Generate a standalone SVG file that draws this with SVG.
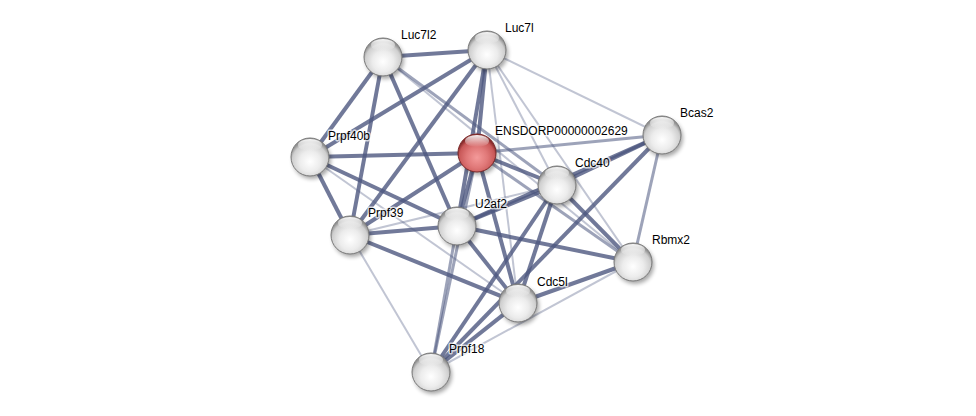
<svg xmlns="http://www.w3.org/2000/svg" width="976" height="416" viewBox="0 0 976 416">
<defs>
<radialGradient id="gW" cx="50%" cy="62%" r="55%">
<stop offset="0" stop-color="#ffffff"/>
<stop offset="0.5" stop-color="#ececec"/>
<stop offset="0.85" stop-color="#cfcfcf"/>
<stop offset="1" stop-color="#959595"/>
</radialGradient>
<radialGradient id="gR" cx="50%" cy="62%" r="55%">
<stop offset="0" stop-color="#f49a9a"/>
<stop offset="0.5" stop-color="#e07878"/>
<stop offset="0.85" stop-color="#c85858"/>
<stop offset="1" stop-color="#8a2c2c"/>
</radialGradient>
<linearGradient id="gH" x1="0" y1="0" x2="0" y2="1">
<stop offset="0" stop-color="#ffffff" stop-opacity="0.95"/>
<stop offset="1" stop-color="#ffffff" stop-opacity="0"/>
</linearGradient>
<filter id="sh" x="-50%" y="-50%" width="200%" height="200%">
<feGaussianBlur stdDeviation="2"/>
</filter>
</defs>
<style>
.e{stroke:#4d5880;fill:none;stroke-linecap:butt}
.d{stroke-width:4;stroke-opacity:0.8}
.m{stroke-width:3;stroke-opacity:0.55}
.l{stroke-width:2;stroke-opacity:0.35}
.s{fill:#000;opacity:0.35;filter:url(#sh)}
.w{fill:url(#gW);stroke:#7a7a7a;stroke-width:1}
.r{fill:url(#gR);stroke:#7a2828;stroke-width:1}
.h{fill:url(#gH)}
text{font-family:"Liberation Sans",Arial,sans-serif;font-size:12px;fill:#000;stroke:#fff;stroke-width:3;stroke-opacity:0.7;paint-order:stroke;stroke-linejoin:round}
</style>
<rect width="976" height="416" fill="#ffffff"/>
<g id="edges">
<line class="e l" x1="487" y1="50" x2="662" y2="135"/>
<line class="e l" x1="487" y1="50" x2="557" y2="185"/>
<line class="e l" x1="487" y1="50" x2="633" y2="262"/>
<line class="e l" x1="487" y1="50" x2="518" y2="303"/>
<line class="e l" x1="310" y1="157" x2="518" y2="303"/>
<line class="e l" x1="350" y1="235" x2="431" y2="372"/>
<line class="e l" x1="350" y1="235" x2="557" y2="185"/>
<line class="e l" x1="431" y1="372" x2="633" y2="262"/>
<line class="e l" x1="383" y1="57" x2="633" y2="262"/>
<line class="e m" x1="383" y1="57" x2="557" y2="185"/>
<line class="e m" x1="477" y1="153" x2="662" y2="135"/>
<line class="e m" x1="662" y1="135" x2="633" y2="262"/>
<line class="e m" x1="477" y1="153" x2="633" y2="262"/>
<line class="e m" x1="477" y1="153" x2="431" y2="372"/>
<line class="e m" x1="457" y1="226" x2="431" y2="372"/>
<line class="e d" x1="383" y1="57" x2="487" y2="50"/>
<line class="e d" x1="383" y1="57" x2="310" y2="157"/>
<line class="e d" x1="383" y1="57" x2="350" y2="235"/>
<line class="e d" x1="383" y1="57" x2="457" y2="226"/>
<line class="e d" x1="487" y1="50" x2="310" y2="157"/>
<line class="e d" x1="487" y1="50" x2="350" y2="235"/>
<line class="e d" x1="487" y1="50" x2="477" y2="153"/>
<line class="e d" x1="487" y1="50" x2="457" y2="226"/>
<line class="e d" x1="310" y1="157" x2="477" y2="153"/>
<line class="e d" x1="310" y1="157" x2="350" y2="235"/>
<line class="e d" x1="310" y1="157" x2="457" y2="226"/>
<line class="e d" x1="350" y1="235" x2="457" y2="226"/>
<line class="e d" x1="350" y1="235" x2="518" y2="303"/>
<line class="e d" x1="350" y1="235" x2="477" y2="153"/>
<line class="e d" x1="477" y1="153" x2="457" y2="226"/>
<line class="e d" x1="477" y1="153" x2="557" y2="185"/>
<line class="e d" x1="477" y1="153" x2="518" y2="303"/>
<line class="e d" x1="557" y1="185" x2="662" y2="135"/>
<line class="e d" x1="557" y1="185" x2="457" y2="226"/>
<line class="e d" x1="557" y1="185" x2="633" y2="262"/>
<line class="e d" x1="557" y1="185" x2="518" y2="303"/>
<line class="e d" x1="557" y1="185" x2="431" y2="372"/>
<line class="e d" x1="662" y1="135" x2="431" y2="372"/>
<line class="e d" x1="457" y1="226" x2="662" y2="135"/>
<line class="e d" x1="457" y1="226" x2="518" y2="303"/>
<line class="e d" x1="457" y1="226" x2="633" y2="262"/>
<line class="e d" x1="518" y1="303" x2="633" y2="262"/>
<line class="e d" x1="518" y1="303" x2="431" y2="372"/>
</g>
<g id="Luc7l2"><circle class="s" cx="385" cy="60" r="19"/><circle class="w" cx="383" cy="57" r="19"/><ellipse class="h" cx="383" cy="45" rx="12" ry="6"/><text x="401" y="39">Luc7l2</text></g>
<g id="Luc7l"><circle class="s" cx="489" cy="53" r="19"/><circle class="w" cx="487" cy="50" r="19"/><ellipse class="h" cx="487" cy="38" rx="12" ry="6"/><text x="505" y="32">Luc7l</text></g>
<g id="ENSDORP00000002629"><circle class="s" cx="479" cy="156" r="19"/><circle class="r" cx="477" cy="153" r="19"/><ellipse class="h" cx="477" cy="141" rx="12" ry="6"/><text x="495" y="135">ENSDORP00000002629</text></g>
<g id="Bcas2"><circle class="s" cx="664" cy="138" r="19"/><circle class="w" cx="662" cy="135" r="19"/><ellipse class="h" cx="662" cy="123" rx="12" ry="6"/><text x="680" y="117">Bcas2</text></g>
<g id="Prpf40b"><circle class="s" cx="312" cy="160" r="19"/><circle class="w" cx="310" cy="157" r="19"/><ellipse class="h" cx="310" cy="145" rx="12" ry="6"/><text x="328" y="140">Prpf40b</text></g>
<g id="Cdc40"><circle class="s" cx="559" cy="188" r="19"/><circle class="w" cx="557" cy="185" r="19"/><ellipse class="h" cx="557" cy="173" rx="12" ry="6"/><text x="575" y="167">Cdc40</text></g>
<g id="U2af2"><circle class="s" cx="459" cy="229" r="19"/><circle class="w" cx="457" cy="226" r="19"/><ellipse class="h" cx="457" cy="214" rx="12" ry="6"/><text x="475" y="208">U2af2</text></g>
<g id="Prpf39"><circle class="s" cx="352" cy="238" r="19"/><circle class="w" cx="350" cy="235" r="19"/><ellipse class="h" cx="350" cy="223" rx="12" ry="6"/><text x="368" y="217">Prpf39</text></g>
<g id="Rbmx2"><circle class="s" cx="635" cy="265" r="19"/><circle class="w" cx="633" cy="262" r="19"/><ellipse class="h" cx="633" cy="250" rx="12" ry="6"/><text x="652" y="244">Rbmx2</text></g>
<g id="Cdc5l"><circle class="s" cx="520" cy="306" r="19"/><circle class="w" cx="518" cy="303" r="19"/><ellipse class="h" cx="518" cy="291" rx="12" ry="6"/><text x="537" y="286">Cdc5l</text></g>
<g id="Prpf18"><circle class="s" cx="433" cy="375" r="19"/><circle class="w" cx="431" cy="372" r="19"/><ellipse class="h" cx="431" cy="360" rx="12" ry="6"/><text x="449" y="353">Prpf18</text></g>
</svg>
